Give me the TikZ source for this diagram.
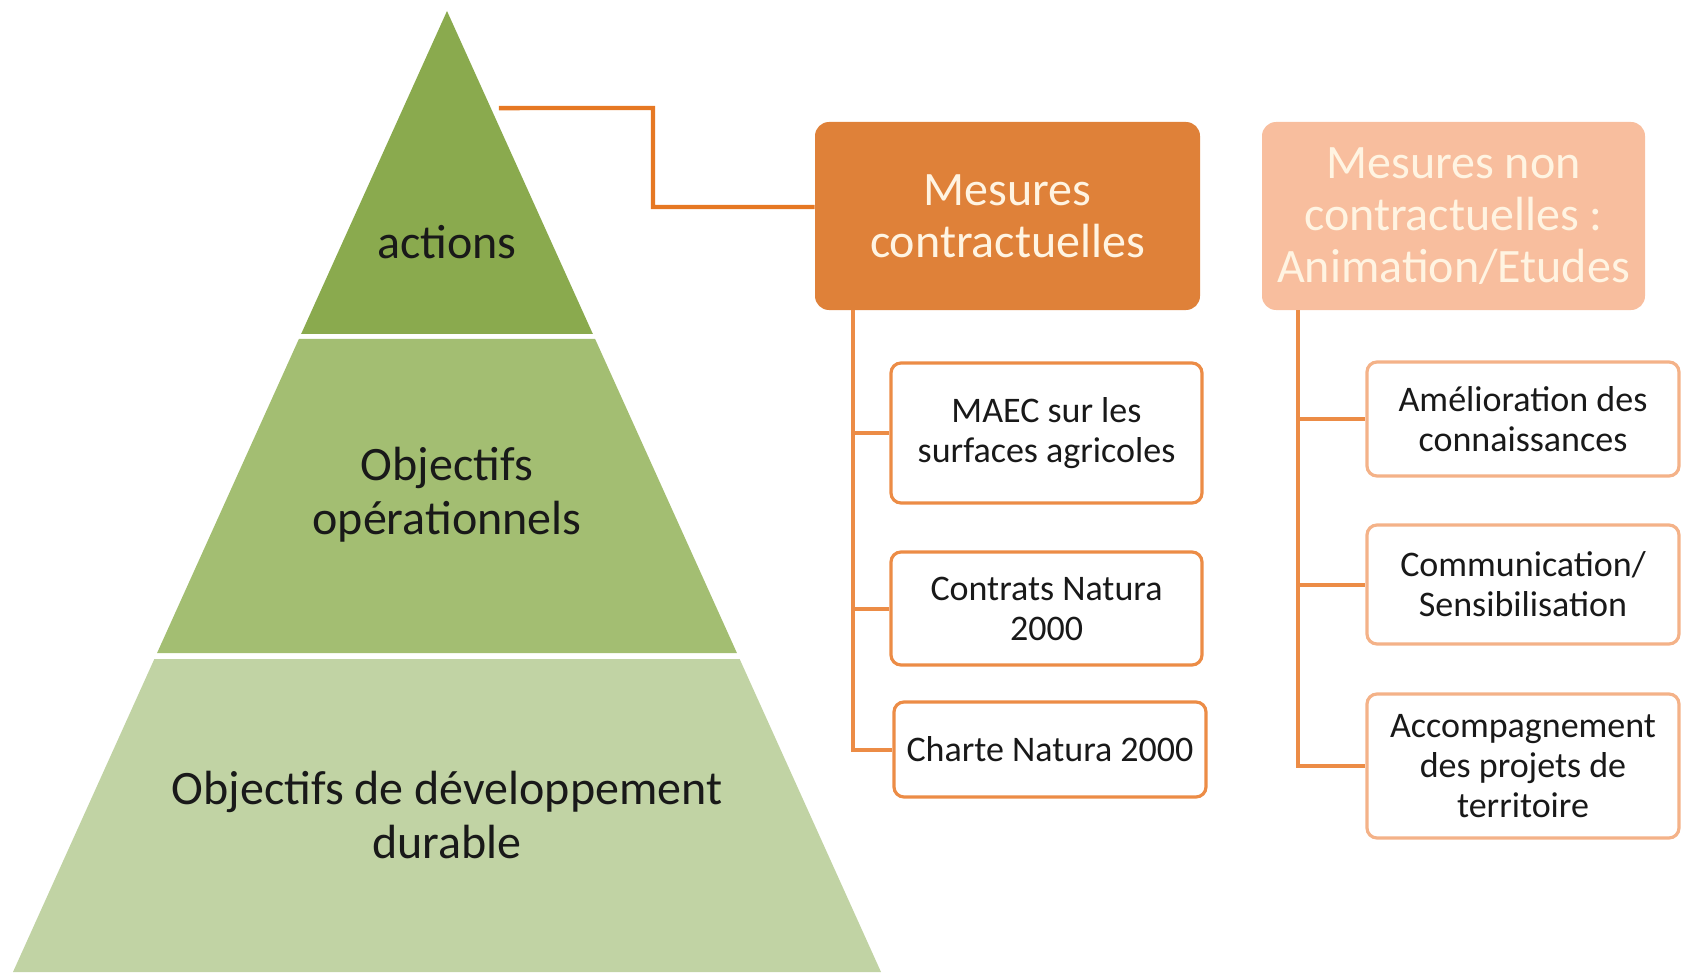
\documentclass[tikz,border=0pt]{standalone}
\usepackage{fontspec}
\setmainfont{Carlito}
\usetikzlibrary{calc}
\definecolor{gA}{RGB}{138,170,78}
\definecolor{gB}{RGB}{163,190,114}
\definecolor{gC}{RGB}{193,211,164}
\definecolor{orD}{RGB}{223,129,57}
\definecolor{orL}{RGB}{248,190,158}
\definecolor{orLine}{RGB}{230,120,35}
\definecolor{brL}{RGB}{236,140,70}
\definecolor{brR}{RGB}{244,178,136}
\definecolor{cream}{RGB}{255,244,226}
\definecolor{txt}{RGB}{25,25,25}
\tikzset{
  pyrtext/.style={align=center,text=txt,font=\fontsize{24}{27}\selectfont,inner sep=0pt},
  headbox/.style={rounded corners=7pt,align=center,inner sep=0pt,text=cream,font=\fontsize{24}{26}\selectfont},
  childL/.style={draw=brL,line width=1.6pt,fill=white,rounded corners=5pt,align=center,inner sep=0pt,text=txt,font=\fontsize{18}{20}\selectfont},
  childR/.style={childL,draw=brR},
  treeL/.style={draw=brL,line width=2pt},
  treeR/.style={draw=brL,line width=2pt},
}
\begin{document}
\begin{tikzpicture}[x=0.5pt,y=-0.5pt]
\useasboundingbox (0,0) rectangle (1688,974);
% pyramid
\coordinate (A) at (447,11);
\coordinate (BL) at (13,972);
\coordinate (BR) at (881,972);
\fill[gA] (A) -- ($(A)!0.3361!(BR)$) -- ($(A)!0.3361!(BL)$) -- cycle;
\fill[gB] ($(A)!0.3413!(BL)$) -- ($(A)!0.3413!(BR)$) -- ($(A)!0.6681!(BR)$) -- ($(A)!0.6681!(BL)$) -- cycle;
\fill[gC] ($(A)!0.6743!(BL)$) -- ($(A)!0.6743!(BR)$) -- (BR) -- (BL) -- cycle;
\node[pyrtext] (p1) at (447,242) {actions};
\node[pyrtext] (p2) at (447,495) {Objectifs\\opérationnels};
\node[pyrtext] (p3) at (447,815) {Objectifs de développement\\durable};
\coordinate (pc) at ($(A)!0.101!(BR)+(8,0)$);
% header boxes
\node[headbox,fill=orD,minimum width=192.5pt,minimum height=94pt] (mc) at (1007.5,216) {Mesures\\contractuelles};
\node[headbox,fill=orL,minimum width=191.5pt,minimum height=94pt] (mnc) at (1453.5,216) {Mesures non\\contractuelles :\\Animation/Etudes};
% connector pyramid -> mc
\coordinate (bend) at (653,108);
\coordinate (mcin) at ($(mc.west)+(0,-9)$);
\draw[orLine,line width=2.2pt] (pc) -- (bend) |- (mcin);
% left children
\node[childL,minimum width=155.5pt,minimum height=70pt] (c1) at (1046.5,433) {MAEC sur les\\surfaces agricoles};
\node[childL,minimum width=155.5pt,minimum height=56.5pt] (c2) at (1046.5,608.5) {Contrats Natura\\2000};
\node[childL,minimum width=156pt,minimum height=47.5pt] (c3) at (1050,749.5) {Charte Natura 2000};
% right children
\node[childR,minimum width=156pt,minimum height=57pt] (r1) at (1523,419) {Amélioration des\\connaissances};
\node[childR,minimum width=156pt,minimum height=59.5pt] (r2) at (1523,584.5) {Communication/\\Sensibilisation};
\node[childR,minimum width=156pt,minimum height=72pt] (r3) at (1523,766) {Accompagnement\\des projets de\\territoire};
% trees
\coordinate (lx) at (853,0);
\coordinate (rx) at (1298,0);
\coordinate (lt) at (mc.south -| lx);
\coordinate (rt) at (mnc.south -| rx);
\draw[treeL] (lt) |- (c1.west);
\draw[treeL] (lt) |- (c2.west);
\draw[treeL] (lt) |- (c3.west);
\draw[treeR] (rt) |- (r1.west);
\draw[treeR] (rt) |- (r2.west);
\draw[treeR] (rt) |- (r3.west);
\end{tikzpicture}
\end{document}
